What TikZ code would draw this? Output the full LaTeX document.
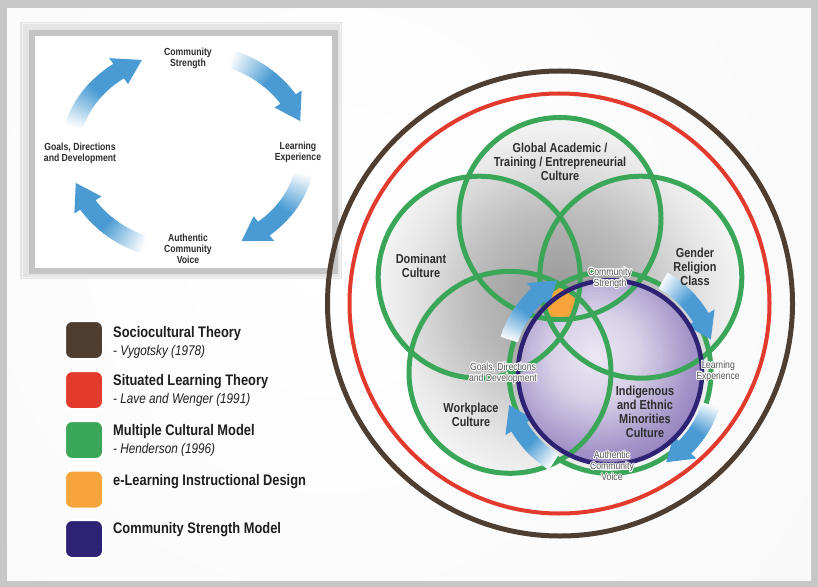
\documentclass[tikz,border=0pt]{standalone}
\usepackage{fontspec}
\setmainfont[FakeStretch=0.84]{Liberation Sans}
\usepackage[copies]{contour}
\contourlength{0.8pt}
\definecolor{pagegray}{RGB}{199,199,199}
\definecolor{panelgray}{RGB}{240,240,240}
\definecolor{boxgray}{RGB}{196,196,196}
\definecolor{bevelgray}{RGB}{228,228,228}
\definecolor{brownc}{RGB}{78,62,50}
\definecolor{redc}{RGB}{226,58,44}
\definecolor{greenc}{RGB}{58,166,88}
\definecolor{orangec}{RGB}{246,164,60}
\definecolor{purplec}{RGB}{45,34,115}
\definecolor{arrowblue}{RGB}{74,155,212}
\definecolor{lav}{RGB}{146,128,190}
\definecolor{labgray}{RGB}{45,45,45}
\definecolor{smallgray}{RGB}{85,85,85}
\definecolor{legtext}{RGB}{30,30,30}

\pgfdeclareradialshading{panelshade}{\pgfpointorigin}{%
  color(0bp)=(white); color(30bp)=(white!97!black); color(50bp)=(white!90!black)}

% curved arrow along an ellipse: #1 cx, #2 cy, #3 rx, #4 ry, #5 tail angle, #6 head-base angle, #7 tip angle, #8 half body width, #9 half head width
\newcommand{\bluearrow}[9]{%
  \pgfmathsetmacro{\bRox}{#3+#8}\pgfmathsetmacro{\bRoy}{#4+#8}%
  \pgfmathsetmacro{\bRix}{#3-#8}\pgfmathsetmacro{\bRiy}{#4-#8}%
  \pgfmathsetmacro{\bTm}{#5+0.6*(#6-#5)}%
  \foreach \k in {0,...,17}{%
    \pgfmathsetmacro{\bSa}{#5+\k/18*(\bTm-#5)}%
    \pgfmathsetmacro{\bSb}{#5+(\k+1.7)/18*(\bTm-#5)}%
    \pgfmathtruncatemacro{\bPc}{3+97*(\k+0.5)/18}%
    \pgfmathsetmacro{\xa}{#1+\bRox*cos(\bSa)}\pgfmathsetmacro{\ya}{#2+\bRoy*sin(\bSa)}%
    \pgfmathsetmacro{\xb}{#1+\bRix*cos(\bSb)}\pgfmathsetmacro{\yb}{#2+\bRiy*sin(\bSb)}%
    \fill[arrowblue!\bPc!white] (\xa,\ya) arc[start angle=\bSa,end angle=\bSb,x radius=\bRox,y radius=\bRoy]
      -- (\xb,\yb) arc[start angle=\bSb,end angle=\bSa,x radius=\bRix,y radius=\bRiy] -- cycle;
  }%
  \pgfmathsetmacro{\xa}{#1+\bRox*cos(\bTm)}\pgfmathsetmacro{\ya}{#2+\bRoy*sin(\bTm)}%
  \pgfmathsetmacro{\xc}{#1+(#3+#9)*cos(#6)}\pgfmathsetmacro{\yc}{#2+(#4+#9)*sin(#6)}%
  \pgfmathsetmacro{\xd}{#1+#3*cos(#7)}\pgfmathsetmacro{\yd}{#2+#4*sin(#7)}%
  \pgfmathsetmacro{\xe}{#1+(#3-#9)*cos(#6)}\pgfmathsetmacro{\ye}{#2+(#4-#9)*sin(#6)}%
  \pgfmathsetmacro{\xf}{#1+\bRix*cos(#6)}\pgfmathsetmacro{\yf}{#2+\bRiy*sin(#6)}%
  \fill[arrowblue] (\xa,\ya) arc[start angle=\bTm,end angle=#6,x radius=\bRox,y radius=\bRoy]
    -- (\xc,\yc) -- (\xd,\yd) -- (\xe,\ye) -- (\xf,\yf)
    arc[start angle=#6,end angle=\bTm,x radius=\bRix,y radius=\bRiy] -- cycle;
}

\begin{document}
\begin{tikzpicture}[x=1bp,y=1bp,
  biglab/.style={font=\bfseries\fontsize{13bp}{14bp}\selectfont, text=labgray, align=center, inner sep=0pt},
  smalllab/.style={font=\fontsize{10.3bp}{11bp}\selectfont, text=smallgray, align=center, inner sep=0pt},
  cyclab/.style={font=\bfseries\fontsize{10.3bp}{11bp}\selectfont, text=labgray, align=center, inner sep=0pt},
  legtitle/.style={font=\bfseries\fontsize{15.3bp}{16bp}\selectfont, text=legtext, anchor=base west, inner sep=0pt},
  legsub/.style={font=\itshape\fontsize{14bp}{16bp}\selectfont, text=legtext, anchor=base west, inner sep=0pt},
  legbox/.style={rounded corners=7bp, draw=white, line width=2bp, minimum width=38bp, minimum height=38bp},
  greenring/.style={draw=greenc, line width=5bp}
]
\useasboundingbox (0,0) rectangle (818,-587);
% page background
\fill[pagegray] (0,0) rectangle (818,-587);
\fill[panelgray] (7,-9) rectangle (811,-580);
\begin{scope}
  \clip (7,-9) rectangle (811,-580);
  \shade[shading=panelshade] (330,-250) circle (620);
\end{scope}

% ---------- cycle box ----------
\fill[bevelgray] (20,-22) rectangle (342,-279);
\draw[white!96!black, line width=1bp] (22,-24) rectangle (340,-277);
\draw[boxgray, line width=6bp] (31.5,-33) rectangle (334.5,-270.5);
\fill[white] (34.5,-36) rectangle (331.5,-267.5);

\bluearrow{188}{-152}{118}{100}{68}{32}{18}{9}{16}
\bluearrow{188}{-152}{118}{100}{-13}{-50}{-63}{9}{16}
\bluearrow{188}{-152}{118}{100}{-112}{-148}{-162}{9}{16}
\bluearrow{188}{-152}{118}{100}{165}{126}{113}{9}{16}

\node[cyclab] (cs) at (188,-58.5) {Community\\Strength};
\node[cyclab] (le) at (298,-152) {Learning\\Experience};
\node[cyclab] (acv) at (188,-248.5) {Authentic\\Community\\Voice};
\node[cyclab] (gdd) at (80,-153.5) {Goals, Directions\\and Development};

% ---------- legend ----------
\node[legbox, fill=brownc] (lbrown) at (84,-340) {};
\node[legbox, fill=redc] (lred) at (84,-390) {};
\node[legbox, fill=greenc] (lgreen) at (84,-440) {};
\node[legbox, fill=orangec] (lorange) at (84,-489.5) {};
\node[legbox, fill=purplec] (lpurple) at (84,-539) {};
\node[legtitle] (tsoc) at (113,-337) {Sociocultural Theory};
\node[legsub] (tvyg) at (113,-355) {- Vygotsky (1978)};
\node[legtitle] (tsit) at (113,-385) {Situated Learning Theory};
\node[legsub] (tlave) at (113,-403) {- Lave and Wenger (1991)};
\node[legtitle] (tmcm) at (113,-435) {Multiple Cultural Model};
\node[legsub] (thend) at (113,-453) {- Henderson (1996)};
\node[legtitle] (tel) at (113,-485) {e-Learning Instructional Design};
\node[legtitle] (tcsm) at (113,-533) {Community Strength Model};

% ---------- flower ----------
\coordinate (cG) at (560,-218.5);
\coordinate (cD) at (479.2,-277.2);
\coordinate (cR) at (640.8,-277.2);
\coordinate (cW) at (510,-372.3);
\coordinate (cI) at (610,-372.3);
\begin{scope}
  \clip (cG) circle (101) (cD) circle (101) (cR) circle (101) (cW) circle (101) (cI) circle (101);
  \foreach \r in {200,196,...,4}{%
    \pgfmathsetmacro{\dk}{\r<85 ? 33-12*\r/85 : (\r<150 ? 21-15*(\r-85)/65 : max(0,6-6*(\r-150)/40))}%
    \fill[black!\dk!white] (560,-303.5) circle (\r);
  }
  \foreach \c in {cG,cD,cR,cW,cI} \fill[black, opacity=0.04] (\c) circle (101);
\end{scope}
% purple model fill
\begin{scope}
  \clip (cI) circle (92);
  \foreach \r in {124,121,...,3}{%
    \pgfmathsetmacro{\pk}{\r<44 ? 18+17*\r/44 : (\r<98 ? 35+50*(\r-44)/54 : min(100,85+15*(\r-98)/24))}%
    \fill[lav!\pk!white] (596,-356) circle (\r);
  }
\end{scope}
% e-learning region: intersection of all five circles
\begin{scope}
  \clip (cG) circle (101);
  \clip (cD) circle (101);
  \clip (cR) circle (101);
  \clip (cW) circle (101);
  \clip (cI) circle (101);
  \fill[orangec] (560,-303.5) circle (40);
\end{scope}
\foreach \c in {cG,cD,cR,cW,cI} \draw[greenring] (\c) circle (101);

% cycle arrows around the community strength model
\bluearrow{610}{-372.3}{106}{106}{162}{133}{120}{9}{16}
\bluearrow{610}{-372.3}{106}{106}{60}{31}{18}{9}{16}
\bluearrow{610}{-372.3}{106}{106}{-18}{-45}{-58}{9}{16}
\bluearrow{610}{-372.3}{106}{106}{-122}{-149}{-162}{9}{16}

\draw[purplec, line width=4.5bp] (cI) circle (92);
\draw[redc, line width=4bp] (559.5,-303.5) circle (210);
\draw[brownc, line width=5bp] (560,-303.5) circle (232.5);

\node[biglab] (glob) at (560,-162) {Global Academic /\\Training / Entrepreneurial\\Culture};
\node[biglab] (dom) at (421,-266) {Dominant\\Culture};
\node[biglab] (gen) at (695,-266.5) {Gender\\Religion\\Class};
\node[biglab] (work) at (471,-415) {Workplace\\Culture};
\node[biglab] (ind) at (645,-412) {Indigenous\\and Ethnic\\Minorities\\Culture};

\node[smalllab] (fcs) at (610,-278.5) {\contour{white}{Community}\\\contour{white}{Strength}};
\node[smalllab] (fle) at (718,-371.5) {\contour{white}{Learning}\\\contour{white}{Experience}};
\node[smalllab] (fgdd) at (503,-373.5) {\contour{white}{Goals, Directions}\\\contour{white}{and Development}};
\node[smalllab] (facv) at (612,-466.5) {\contour{white}{Authentic}\\\contour{white}{Community}\\\contour{white}{Voice}};
\end{tikzpicture}
\end{document}
